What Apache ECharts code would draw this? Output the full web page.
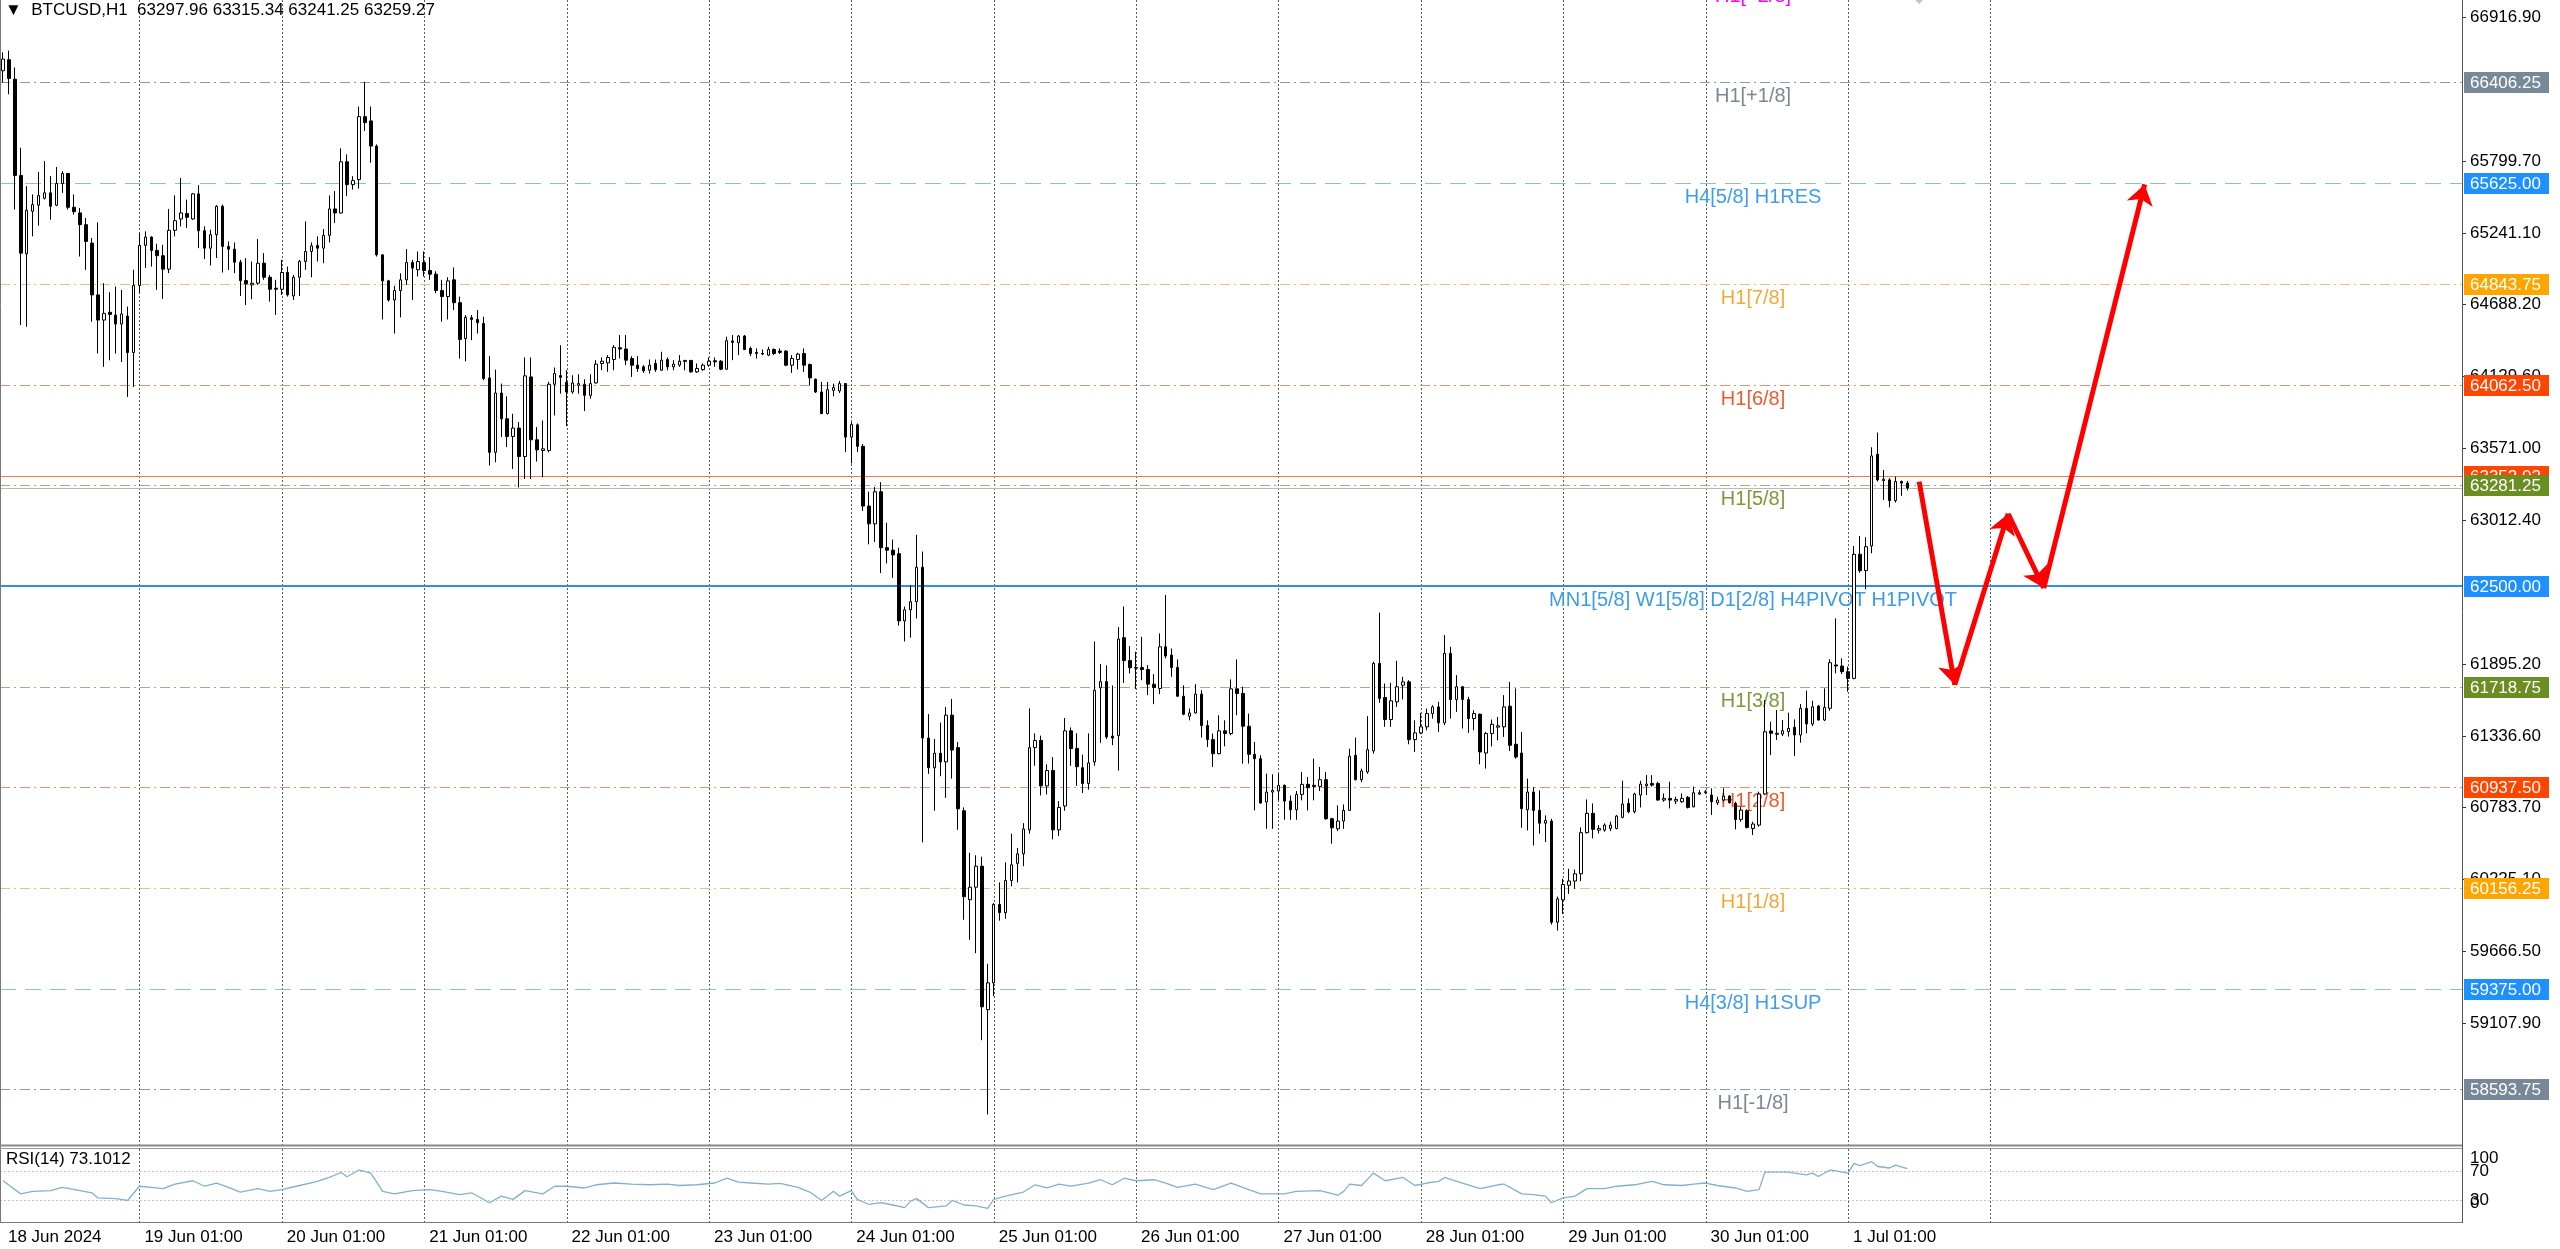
<!DOCTYPE html>
<html><head><meta charset="utf-8">
<script src="https://cdn.jsdelivr.net/npm/echarts@6/dist/echarts.min.js"></script>
<style>html,body{margin:0;padding:0;background:#fff}#c{width:2560px;height:1249px}</style>
</head><body><div id="c"></div>
<script>
// ---------------- DATA ----------------
const symbolName = 'BTCUSD,H1';
// hourly bars [open, high, low, close], first bar = 18 Jun 02:00
const bars = [
[66497,66640,66406,66588],[66583,66653,66315,66437],[66432,66523,65420,65685],[65685,65900,64524,65082],[65077,65602,64511,65415],
[65407,65537,65212,65459],[65454,65713,65295,65529],[65508,65796,65498,65550],[65550,65680,65342,65446],[65454,65750,65446,65622],
[65622,65718,65550,65700],[65700,65705,65420,65438],[65438,65537,65381,65404],[65394,65433,65056,65303],[65303,65355,64952,65173],
[65160,65199,64550,64758],[64758,65321,64303,64563],[64563,64849,64200,64615],[64623,64778,64251,64607],[64602,64823,64303,64532],
[64532,64797,64238,64610],[64594,64667,63966,64311],[64311,64953,64044,64831],[64831,65238,64771,65142],[65142,65251,64966,65207],
[65207,65212,64978,65103],[65103,65155,64797,65062],[65062,65147,64727,64958],[64958,65425,64927,65259],[65259,65531,65212,65334],
[65347,65666,65290,65394],[65389,65498,65277,65360],[65347,65549,65342,65542],[65542,65609,65121,65256],[65256,65290,65036,65121],
[65121,65264,64986,65225],[65225,65454,65044,65446],[65446,65459,64932,65134],[65134,65173,64952,65113],[65113,65165,64927,65012],
[65012,65030,64750,64869],[64869,65043,64680,64844],[64836,65017,64724,64849],[64849,65191,64836,65004],[65004,65082,64875,64895],
[64895,64913,64706,64802],[64810,64875,64602,64802],[64802,65030,64758,64932],[64932,64978,64745,64758],[64750,64913,64719,64895],
[64895,65030,64750,65017],[65017,65329,64953,65095],[65095,65165,64895,65139],[65142,65212,65017,65121],[65121,65269,65004,65220],
[65220,65529,65165,65425],[65425,65563,65316,65394],[65394,65895,65389,65791],[65791,65848,65524,65614],[65614,65679,65575,65645],
[65653,66219,65583,66141],[66141,66411,66030,66095],[66108,66219,65783,65913],[65913,65926,65056,65069],[65069,65069,64568,64867],
[64867,64875,64706,64719],[64719,64828,64459,64792],[64792,64926,64584,64875],[64875,65113,64836,65009],[65009,65030,64719,64966],
[64953,65095,64901,65017],[65009,65095,64901,64947],[64947,65051,64875,64919],[64919,64942,64771,64792],[64792,64875,64550,64745],
[64745,64895,64568,64867],[64875,64971,64641,64698],[64698,64745,64264,64413],[64420,64602,64243,64584],[64581,64602,64407,64568],
[64568,64641,64459,64542],[64537,64589,64096,64109],[64114,64283,63434,63537],[63537,64178,63460,63997],[63997,64070,63655,63797],
[63797,63971,63577,63660],[63660,63836,63408,63725],[63725,63771,63265,63504],[63504,64273,63330,64130],[64122,64273,63330,63634],
[63634,63733,63465,63556],[63551,63784,63343,63564],[63551,64083,63537,64065],[64065,64195,63823,64148],[64132,64368,63992,64119],
[64080,64174,63740,64005],[64005,64135,63992,64075],[64057,64143,63992,64070],[64065,64104,63857,63979],[63979,64143,63953,64070],
[64075,64252,64070,64221],[64226,64273,64174,64244],[64231,64291,64161,64273],[64257,64369,64174,64351],[64348,64447,64265,64338],
[64338,64447,64213,64252],[64265,64283,64122,64213],[64213,64283,64161,64187],[64200,64213,64153,64169],[64174,64257,64148,64213],
[64226,64257,64161,64179],[64174,64317,64169,64252],[64257,64273,64174,64200],[64200,64252,64174,64221],[64213,64291,64200,64244],
[64242,64252,64174,64250],[64250,64252,64153,64161],[64161,64226,64153,64187],[64179,64226,64169,64213],[64213,64273,64200,64244],
[64247,64273,64200,64239],[64244,64252,64174,64182],[64182,64434,64179,64403],[64400,64447,64252,64390],[64387,64447,64291,64439],
[64439,64447,64330,64335],[64343,64356,64283,64304],[64312,64343,64265,64304],[64304,64335,64291,64299],[64291,64356,64283,64335],
[64335,64343,64291,64304],[64322,64343,64299,64312],[64322,64330,64205,64213],[64213,64291,64153,64265],[64257,64309,64179,64299],
[64304,64343,64161,64213],[64218,64226,64057,64114],[64104,64109,63997,64005],[64005,64083,63837,63837],[63837,64083,63831,64023],
[64018,64070,63972,64039],[64013,64091,63997,64070],[64070,64075,63538,63655],[63655,63772,63450,63752],[63750,63761,63539,63583],
[63583,63602,63082,63120],[63120,63231,62823,62982],[62982,63268,62841,63231],[63231,63305,62600,62797],[62797,62990,62674,62778],
[62778,62860,62563,62741],[62750,62797,62192,62229],[62229,62340,62070,62315],[62315,62507,62099,62378],[62378,62897,62248,62645],
[62645,62767,60511,61320],[61320,61506,61042,61090],[61090,61313,60756,61202],[61202,61439,61024,61135],[61135,61561,60856,61498],
[61498,61624,61005,61227],[61246,61290,60608,60771],[60756,60782,59910,60089],[60066,60430,59755,60163],[60163,60411,59651,60326],
[60326,60400,58976,59235],[59213,59569,58400,59421],[59421,60040,59317,60029],[60029,60200,59903,59966],[59966,60356,59918,60215],
[60215,60578,60170,60337],[60348,60467,60200,60422],[60422,60660,60326,60615],[60608,61550,60578,61246],[61246,61357,61105,61302],
[61302,61339,60875,60949],[60949,61116,60882,61068],[61068,61172,60534,60608],[60608,60831,60560,60782],[60793,61476,60756,61376],
[61376,61402,61105,61239],[61239,61357,60949,61098],[61090,61190,60894,60968],[60968,61357,60920,61127],[61135,62070,61105,61691],
[61710,61895,61283,61758],[61758,61884,61313,61328],[61335,61728,61265,61320],[61339,62181,61068,62088],[62099,62340,61747,61921],
[61921,62033,61821,61866],[61862,61990,61700,61868],[61868,62106,61769,61852],[61852,61886,61653,61738],[61738,61816,61583,61712],
[61705,62132,61661,62028],[62028,62430,61938,61956],[61964,62015,61795,61868],[61868,61930,61640,61645],[61645,61730,61497,61505],
[61490,61549,61458,61515],[61515,61738,61510,61661],[61661,61692,61324,61417],[61417,61458,61251,61308],[61308,61355,61096,61199],
[61199,61497,61194,61376],[61376,61458,61256,61355],[61355,61775,61342,61702],[61702,61930,61497,61666],[61666,61718,61122,61412],
[61412,61510,61122,61194],[61194,61290,60759,61160],[61160,61186,60811,60816],[60824,61044,60616,60901],[60901,61039,60616,60914],
[60909,61044,60837,60953],[60953,60961,60686,60831],[60831,60875,60686,60764],[60764,60909,60686,60883],[60883,61057,60837,60961],
[60961,61018,60759,60935],[60953,61160,60837,60945],[60945,61096,60909,60997],[60997,61057,60686,60694],[60694,60702,60500,60624],
[60616,60798,60598,60676],[60676,60805,60616,60759],[60759,61238,60754,61179],[61186,61324,60992,60997],[60997,61083,60979,61065],
[61057,61490,61044,61230],[61220,61912,61199,61899],[61899,62293,61593,61627],[61635,61743,61407,61464],[61464,61749,61407,61609],
[61601,61920,61562,61718],[61730,61795,61619,61756],[61756,61769,61272,61308],[61308,61458,61212,61360],[61360,61515,61350,61407],
[61407,61549,61381,61510],[61510,61575,61471,61562],[61562,61601,61368,61438],[61438,62119,61420,61977],[61977,62028,61471,61619],
[61619,61808,61523,61718],[61718,61723,61394,61619],[61619,61640,61360,61471],[61471,61536,61381,61510],[61505,61510,61116,61212],
[61204,61368,61083,61355],[61355,61464,61256,61427],[61405,61484,61303,61415],[61407,61653,61329,61562],[61567,61756,61220,61264],
[61272,61705,61160,61173],[61204,61368,60624,60772],[60764,61005,60603,60901],[60901,60940,60487,60759],[60759,60914,60578,60660],
[60660,60720,60513,60681],[60676,60694,59873,59891],[59891,60090,59826,60072],[60065,60228,59956,60184],[60178,60306,60111,60211],
[60211,60300,60150,60267],[60267,60627,60210,60586],[60586,60844,60580,60736],[60736,60813,60542,60612],[60606,60645,60580,60619],
[60606,60658,60593,60645],[60619,60671,60598,60645],[60619,60723,60612,60715],[60705,60989,60697,60808],[60813,60852,60736,60749],
[60749,60896,60736,60886],[60878,60989,60782,60963],[60950,61033,60878,60963],[60968,61033,60943,60955],[60968,60981,60834,60839],
[60839,60891,60826,60852],[60852,60981,60774,60839],[60831,60865,60808,60844],[60826,60891,60818,60852],[60860,60870,60774,60782],
[60787,60943,60782,60896],[60886,60917,60878,60896],[60896,60917,60886,60904],[60878,60930,60723,60826],[60818,60865,60800,60839],
[60839,60930,60826,60870],[60870,60878,60813,60818],[60813,60826,60612,60689],[60689,60787,60671,60761],[60757,60768,60619,60627],
[60619,60671,60568,60653],[60645,60904,60632,60886],[60886,61615,60878,61369],[61375,61447,61188,61357],[61349,61538,61305,61357],
[61351,61460,61336,61377],[61370,61517,61331,61395],[61403,61465,61181,61344],[61344,61584,61284,61551],[61551,61688,61357,61429],
[61429,61610,61413,61563],[61568,61577,61455,61460],[61460,61706,61452,61558],[61551,61931,61532,61905],[61887,62249,61822,61879],
[61879,61939,61817,61835],[61835,61874,61680,61783],[61783,62810,61776,62746],[62746,62888,62603,62619],[62619,62878,62474,62805],
[62810,63576,62754,63509],[63522,63690,63310,63323],[63317,63400,63167,63328],[63323,63336,63110,63162],[63162,63348,63147,63310],
[63310,63318,63199,63297.96],[63297.96,63315.34,63241.25,63259.27]
];
const slotCount = 415;
const dayLabelIdx = [0,23,47,71,95,119,143,167,191,215,239,263,287,311];
const dayLabels = ['18 Jun 2024','19 Jun 01:00','20 Jun 01:00','21 Jun 01:00','22 Jun 01:00','23 Jun 01:00','24 Jun 01:00',
  '25 Jun 01:00','26 Jun 01:00','27 Jun 01:00','28 Jun 01:00','29 Jun 01:00','30 Jun 01:00','1 Jul 01:00'];
const gridIdx = [23,47,71,95,119,143,167,191,215,239,263,287,311,335];
const priceTicks = [66916.90,65799.70,65241.10,64688.20,64129.60,63571.00,63012.40,61895.20,61336.60,60783.70,60225.10,59666.50,59107.90];
const rsiTicks = [100,70,30,0];
const rsiLevels = [70,30];
const rsiLabel = 'RSI(14) 73.1012';
const rsiIdx = [0,3,5,8,10,13,15,16,19,21,23,25,27,29,32,34,36,38,40,43,45,47,50,53,55,57,58,60,62,64,66,69,72,74,77,79,82,84,86,88,91,93,95,98,
  100,103,106,109,112,114,117,120,122,124,126,129,131,134,136,138,140,141,143,144,146,148,150,152,153,154,156,159,160,162,164,166,167,169,
  172,174,176,178,180,183,185,187,189,191,194,196,198,201,204,207,210,212,216,218,222,225,226,227,229,231,233,236,238,240,242,243,246,249,
  252,253,256,258,260,261,263,265,267,270,272,275,278,280,283,285,287,289,292,294,296,297,301,302,304,305,306,308,311,312,313,315,316,318,319,321];
const rsiVal = [56.5,38.5,42,43,47.5,43,40,33,32,29.5,49,47.5,45.7,52,56.5,49,53.4,47.5,41,45.7,42,44.4,50,55.6,61,67.8,62,71.3,67,42,38.5,43,44.4,42,
  37.6,40,26.4,35.4,31,43,38.5,49,49,46.6,51,53.4,52,51,52,50,51,53.4,60,54.7,53.4,52,53,47.5,41,29.5,42,35.4,43,31,24,26.4,23.3,19.7,28.6,32,
  19.7,22,29.5,23.3,22,18.8,31,35.4,41,51,46.6,52,49,53.4,57.9,51,60,56.5,57.9,53.4,47.5,52,44.4,53.4,44.4,38.5,38.5,42,43,36.7,42,52,50,67,56.5,
  61,50,53.4,55.6,61,53.4,45.7,51,52,38.5,37.6,35.4,26.4,33,35.4,45.7,45.7,49,51,55.6,51,50,52,53.4,50,46.6,42,44.4,68.2,68.2,67,64.6,67,62.4,
  71.3,67,80.3,77.2,82.6,76,74,78,73.1];
const levelPrices = [67187.5,66406.25,65625,64843.75,64062.5,63352.02,63281.25,63259.27,62500,61718.75,60937.5,60156.25,59375,58593.75];
const levelNames = ['H1[+2/8]','H1[+1/8]','H4[5/8] H1RES','H1[7/8]','H1[6/8]','','H1[5/8]','','MN1[5/8] W1[5/8] D1[2/8] H4PIVOT H1PIVOT',
  'H1[3/8]','H1[2/8]','H1[1/8]','H4[3/8] H1SUP','H1[-1/8]'];
const levelKind = ['plus2','gray','h4','orange','red','ask','olive','bid','pivot','olive','red','orange','h4','gray'];
const forecastPath = [[323,63310],[329,61733],[338,63060],[344,62484],[361,65615]];
const markerPoint = [[323,67078]];

// ---------------- STYLES ----------------
const FONT = '"Liberation Sans", Arial, "DejaVu Sans", sans-serif';
const DD = [10,4,2,4];
const LV = {
  plus2:{line:'#ff00ff',dash:DD,w:1,text:'#ff00ff'},
  gray:{line:'#8e99a5',dash:DD,w:1,text:'#7b8794',box:'#778899'},
  h4:{line:'#86bde9',dash:[16,9],w:1,text:'#3f9de9',box:'#1e90ff'},
  orange:{line:'#e8c275',dash:DD,w:1,text:'#f3a83a',box:'#ffa500'},
  red:{line:'#e5906e',dash:DD,w:1,text:'#ee5a2b',box:'#ff4500'},
  ask:{line:'#f07a48',dash:null,w:1,box:'#ff4500'},
  olive:{line:'#a0b27a',dash:DD,w:1,text:'#7b983b',box:'#6b8e23'},
  bid:{line:'#b8b8b8',dash:null,w:1},
  pivot:{line:'#2f8fe0',dash:null,w:2,text:'#3d9be8',box:'#1e90ff'}
};
const labelSlot = 295;

// categories (hourly slots)
function hourName(i){let h=2+i;let d=18+Math.floor(h/24);h=h%24;let m='Jun';if(d>30){d-=30;m='Jul';}return d+' '+m+' '+String(h).padStart(2,'0')+':00';}
const categories = Array.from({length:slotCount},(_,i)=>hourName(i));
const labelMap = {}; dayLabelIdx.forEach((ix,k)=>labelMap[ix]=dayLabels[k]);

const last = bars[bars.length-1];
const titleText = '\u25BC  ' + symbolName + '  ' + last.map(v=>v.toFixed(2)).join(' ');

const chart = echarts.init(document.getElementById('c'), null, {renderer:'canvas'});

function vGrid(params, api){
  const cs = params.coordSys;
  const x = Math.round(api.coord([api.value(0), api.value(1)])[0]) + 0.5;
  return {type:'line', shape:{x1:x,y1:cs.y,x2:x,y2:cs.y+cs.height}, style:{stroke:'#5a5a5a',lineWidth:1,lineDash:[2,2]}};
}

const option = {
  animation:false,
  backgroundColor:'#ffffff',
  grid:[
    {left:0,right:98,top:0,height:1145,show:false},
    {left:0,right:98,top:1149,height:73,show:false}
  ],
  xAxis:[
    {type:'category',gridIndex:0,data:categories,boundaryGap:true,axisLine:{show:false},axisTick:{show:false},axisLabel:{show:false},splitLine:{show:false}},
    {type:'category',gridIndex:1,data:categories,boundaryGap:true,axisLine:{show:false},axisTick:{show:false},splitLine:{show:false},
     axisLabel:{show:true,interval:(i)=>labelMap[i]!==undefined,formatter:(v,i)=>labelMap[i]||'',align:'left',padding:[0,0,0,5],
       margin:7,fontSize:17,fontFamily:FONT,color:'#000'}}
  ],
  yAxis:[
    {type:'value',gridIndex:0,min:58163,max:67046,position:'right',axisLine:{show:false},axisTick:{show:false},axisLabel:{show:false},splitLine:{show:false}},
    {type:'value',gridIndex:1,min:0,max:100,position:'right',axisLine:{show:false},axisTick:{show:false},axisLabel:{show:false},splitLine:{show:false}}
  ],
  graphic:[
    {type:'line',shape:{x1:0.5,y1:0,x2:0.5,y2:1222},style:{stroke:'#777',lineWidth:1},z:50},
    {type:'line',shape:{x1:2462.5,y1:0,x2:2462.5,y2:1223},style:{stroke:'#555',lineWidth:1},z:50},
    {type:'line',shape:{x1:0,y1:1145.5,x2:2462,y2:1145.5},style:{stroke:'#888',lineWidth:2},z:50},
    {type:'line',shape:{x1:0,y1:1148.5,x2:2462,y2:1148.5},style:{stroke:'#999',lineWidth:1},z:50},
    {type:'line',shape:{x1:0,y1:1222.5,x2:2462,y2:1222.5},style:{stroke:'#777',lineWidth:1},z:50},
    {type:'text',left:5,top:2,style:{text:titleText,font:'17px '+FONT,fill:'#000'},z:60},
    {type:'text',left:6,top:1151,style:{text:rsiLabel,font:'17px '+FONT,fill:'#000'},z:60}
  ],
  series:[
    {type:'custom',xAxisIndex:0,yAxisIndex:0,z:0,silent:true,data:gridIdx.map(i=>[i,62500]),renderItem:vGrid},
    {type:'custom',xAxisIndex:1,yAxisIndex:1,z:0,silent:true,data:gridIdx.map(i=>[i,50]),renderItem:vGrid},
    // level lines + in-chart labels
    {type:'custom',xAxisIndex:0,yAxisIndex:0,z:1,silent:true,clip:false,
     data:levelPrices.map(p=>[labelSlot,p]),
     renderItem:(params,api)=>{
       const cs=params.coordSys, i=params.dataIndex, st=LV[levelKind[i]];
       const pt=api.coord([api.value(0),api.value(1)]);
       const y=Math.round(pt[1])+(st.w===2?0:0.5);
       const ch=[];
       if(y>=cs.y && y<=cs.y+cs.height){
         const ls={stroke:st.line,lineWidth:st.w};
         if(st.dash) ls.lineDash=st.dash;
         ch.push({type:'line',shape:{x1:cs.x,y1:y,x2:cs.x+cs.width,y2:y},style:ls});
       }
       if(levelNames[i]) ch.push({type:'text',x:pt[0],y:y+4,style:{text:levelNames[i],fill:st.text,font:'20px '+FONT,align:'center',verticalAlign:'top'}});
       return {type:'group',children:ch};
     }},
    // price axis tick labels
    {type:'custom',xAxisIndex:0,yAxisIndex:0,z:8,silent:true,clip:false,
     data:priceTicks.map(p=>[0,p]),
     renderItem:(params,api)=>{
       const cs=params.coordSys; const y=Math.round(api.coord([0,api.value(1)])[1]);
       const ax=cs.x+cs.width;
       return {type:'group',children:[
         {type:'line',shape:{x1:ax,y1:y+0.5,x2:ax+4,y2:y+0.5},style:{stroke:'#333',lineWidth:1}},
         {type:'text',x:ax+8,y:y,style:{text:priceTicks[params.dataIndex].toFixed(2),fill:'#000',font:'17px '+FONT,align:'left',verticalAlign:'middle'}}
       ]};
     }},
    // level boxes on price axis
    {type:'custom',xAxisIndex:0,yAxisIndex:0,z:9,silent:true,clip:false,
     data:levelPrices.map(p=>[0,p]),
     renderItem:(params,api)=>{
       const i=params.dataIndex, st=LV[levelKind[i]];
       if(!st.box) return {type:'group',children:[]};
       const cs=params.coordSys; const y=Math.round(api.coord([0,api.value(1)])[1]);
       const ax=cs.x+cs.width;
       if(y<cs.y||y>cs.y+cs.height) return {type:'group',children:[]};
       return {type:'group',children:[
         {type:'rect',shape:{x:ax+2,y:y-10,width:85,height:21},style:{fill:st.box}},
         {type:'text',x:ax+8,y:y+1,style:{text:levelPrices[i].toFixed(2),fill:'#fff',font:'17px '+FONT,align:'left',verticalAlign:'middle'}}
       ]};
     }},
    // candles
    {type:'candlestick',xAxisIndex:0,yAxisIndex:0,z:3,barWidth:3,
     data:bars.map(b=>[b[0],b[3],b[2],b[1]]),
     itemStyle:{color:'#ffffff',color0:'#000000',borderColor:'#000000',borderColor0:'#000000',borderColorDoji:'#000000',borderWidth:1},
     markLine:{silent:true,symbol:['none','arrow'],symbolSize:20,label:{show:false},animation:false,
       lineStyle:{color:'#ff0000',width:5,type:'solid'},
       emphasis:{disabled:true},
       data:forecastPath.slice(0,-1).map((p,k)=>[{coord:p},{coord:forecastPath[k+1]}])}
    },
    // small gray marker at top edge
    {type:'scatter',xAxisIndex:0,yAxisIndex:0,z:4,silent:true,clip:false,symbol:'diamond',symbolSize:[16,16],data:markerPoint,itemStyle:{color:'#b4b4b4'}},
    // RSI level lines
    {type:'custom',xAxisIndex:1,yAxisIndex:1,z:1,silent:true,data:rsiLevels.map(v=>[0,v]),
     renderItem:(params,api)=>{const cs=params.coordSys;const y=Math.round(api.coord([0,api.value(1)])[1])+0.5;
       return {type:'line',shape:{x1:cs.x,y1:y,x2:cs.x+cs.width,y2:y},style:{stroke:'#c4c4c4',lineWidth:1,lineDash:[2,2]}};}},
    // RSI axis labels (kept inside the panel like the terminal does)
    {type:'custom',xAxisIndex:1,yAxisIndex:1,z:8,silent:true,clip:false,data:rsiTicks.map(v=>[0,v]),
     renderItem:(params,api)=>{const cs=params.coordSys;let y=Math.round(api.coord([0,api.value(1)])[1]);
       y=Math.min(Math.max(y,cs.y+9),cs.y+cs.height-19);const ax=cs.x+cs.width;
       return {type:'text',x:ax+8,y:y,style:{text:String(rsiTicks[params.dataIndex]),fill:'#000',font:'17px '+FONT,align:'left',verticalAlign:'middle'}};}},
    // RSI line
    {type:'line',xAxisIndex:1,yAxisIndex:1,z:3,silent:true,showSymbol:false,symbol:'none',
     data:rsiIdx.map((x,k)=>[x,rsiVal[k]]),lineStyle:{color:'#7fb2cf',width:1.3}}
  ]
};
chart.setOption(option);
</script>
</body></html>
